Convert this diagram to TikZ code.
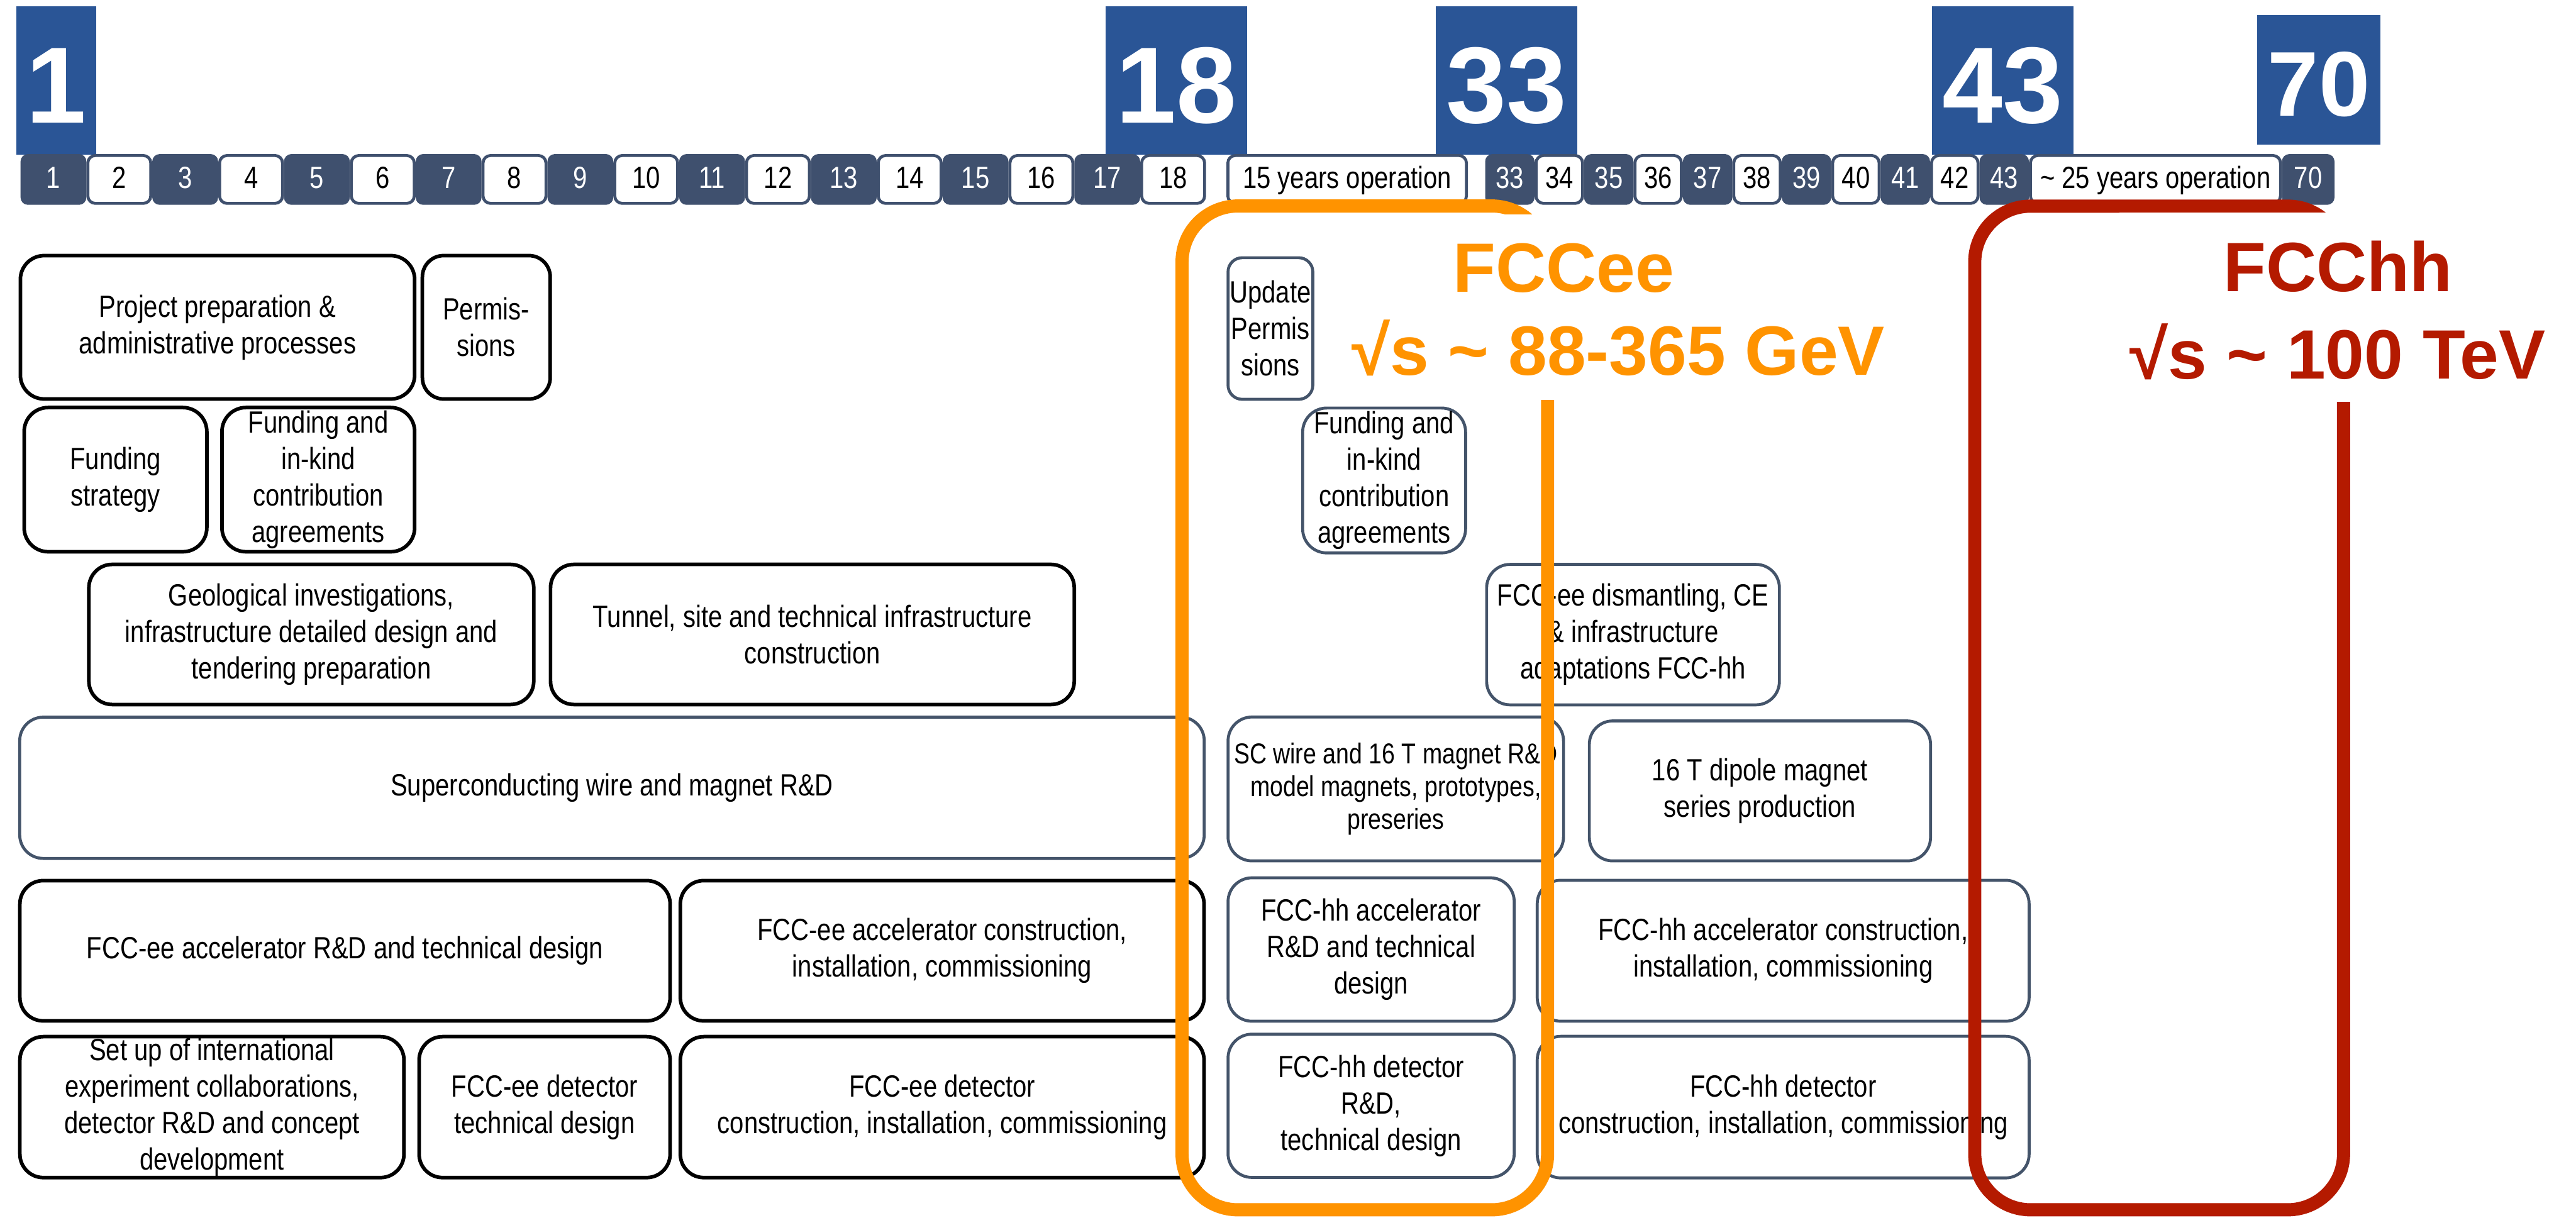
\documentclass[tikz,border=0pt]{standalone}
\usepackage{fontspec}
\setmainfont{Liberation Sans}[FakeStretch=0.82]
\newfontfamily\widefont{Liberation Sans}
\definecolor{slate}{HTML}{3F506E}
\definecolor{slateline}{HTML}{44546A}
\definecolor{bluebox}{HTML}{2A5596}
\definecolor{fccorange}{HTML}{FF9300}
\definecolor{fccred}{HTML}{B41A00}
\newcommand\taskbox[7]{%
  \pgfmathsetmacro\tbw{#5-#3}%
  \pgfmathsetmacro\tbh{#6-#4}%
  \pgfmathsetmacro\tbr{0.1667*min(\tbw,\tbh)}%
  \pgfmathsetmacro\tbx{(#3+#5)/2}%
  \pgfmathsetmacro\tby{(#4+#6)/2}%
  \node[#2, minimum width=\tbw pt, minimum height=\tbh pt, rounded corners=\tbr pt] (#1) at (\tbx,\tby) {#7};}
\begin{document}
\begin{tikzpicture}[x=1pt,y=-1pt,
  kbox/.style={draw=black, line width=2.2pt, align=center, inner sep=0pt, font=\fontsize{18.7}{22.2}\selectfont},
  gbox/.style={draw=slateline, line width=1.8pt, align=center, inner sep=0pt, font=\fontsize{18.7}{22.2}\selectfont},
  daydark/.style={fill=slate, text=white, rounded corners=4.5pt, inner sep=0pt, font=\fontsize{18.7}{22}\selectfont, text height=13.7pt, text depth=2.8pt},
  daywhite/.style={fill=white, draw=slate, line width=1.8pt, text=black, rounded corners=4.5pt, inner sep=0pt, font=\fontsize{18.7}{22}\selectfont, text height=13.7pt, text depth=2.8pt},
  bignum/.style={fill=bluebox, text=white, inner sep=0pt, text depth=0pt, font=\widefont\bfseries\fontsize{66}{66}\selectfont},
  frameline/.style={line width=8pt, rounded corners=34pt},
  bigtitle/.style={anchor=base, inner sep=0pt, font=\widefont\bfseries\fontsize{42.5}{42.5}\selectfont}
]
\fill[white] (0,0) rectangle (1568,741.2);
\useasboundingbox (0,0) rectangle (1568,741.2);

% big year boxes
\node[bignum, minimum width=48.5pt, minimum height=90pt, text height=51.6pt] (n1) at (34.25,49) {1};
\node[bignum, minimum width=86pt, minimum height=90pt, text height=51.6pt] (n18) at (716,49) {18};
\node[bignum, minimum width=86pt, minimum height=90pt, text height=51.6pt] (n33) at (917,49) {33};
\node[bignum, minimum width=86pt, minimum height=90pt, text height=51.6pt] (n43) at (1219,49) {43};
\node[bignum, minimum width=75pt, minimum height=79pt, text height=44.2pt, font=\widefont\bfseries\fontsize{56}{56}\selectfont] (n70) at (1411.5,48.5) {70};

% timeline
\foreach \i in {1,...,18}{
  \pgfmathsetmacro\cx{12.5+(\i-0.5)*40.09}
  \pgfmathtruncatemacro\odd{mod(\i,2)}
  \ifnum\odd=1
    \node[daydark, minimum width=40.09pt, minimum height=30.9pt] (t\i) at (\cx,109.25) {\i};
  \else
    \node[daywhite, minimum width=38.3pt, minimum height=29.1pt] (t\i) at (\cx,109.25) {\i};
  \fi
}
\node[daywhite, minimum width=145.2pt, minimum height=29.1pt] (op15) at (820,109.25) {15 years operation};
\foreach \i in {33,...,43}{
  \pgfmathsetmacro\cx{904+(\i-32.5)*30.09}
  \pgfmathtruncatemacro\odd{mod(\i,2)}
  \ifnum\odd=1
    \node[daydark, minimum width=30.09pt, minimum height=30.9pt] (t\i) at (\cx,109.25) {\i};
  \else
    \node[daywhite, minimum width=28.3pt, minimum height=29.1pt] (t\i) at (\cx,109.25) {\i};
  \fi
}
\node[daywhite, minimum width=152.2pt, minimum height=29.1pt] (op25) at (1312,109.25) {\textasciitilde{} 25 years operation};
\node[daydark, minimum width=32pt, minimum height=30.9pt] (t70) at (1405,109.25) {70};

% FCC-ee phase boxes (black)
\taskbox{prep}{kbox}{12.4}{155.6}{252.4}{242.9}{Project preparation \&\\administrative processes}
\taskbox{perm}{kbox}{257.1}{155.6}{334.9}{242.9}{Permis-\\sions}
\taskbox{fstrat}{kbox}{14.7}{248.1}{125.9}{335.9}{Funding\\strategy}
\taskbox{fund}{kbox}{135.1}{248.1}{252.4}{335.9}{Funding and\\in-kind\\contribution\\agreements}
\taskbox{geo}{kbox}{54.1}{343.6}{324.9}{428.9}{Geological investigations,\\infrastructure detailed design and\\tendering preparation}
\taskbox{tunnel}{kbox}{335.1}{343.6}{653.9}{428.9}{Tunnel, site and technical infrastructure\\construction}
\taskbox{sc}{gbox}{12}{436.6}{733}{522.6}{Superconducting wire and magnet R\&D}
\taskbox{eeacc}{kbox}{12.1}{536.1}{407.9}{621.5}{FCC-ee accelerator R\&D and technical design}
\taskbox{eeaccc}{kbox}{414.1}{536.1}{732.9}{621.5}{FCC-ee accelerator construction,\\installation, commissioning}
\taskbox{setup}{kbox}{12.1}{631.1}{245.9}{716.9}{Set up of international\\experiment collaborations,\\detector R\&D and concept\\development}
\taskbox{eedet}{kbox}{255.1}{631.1}{407.9}{716.9}{FCC-ee detector\\technical design}
\taskbox{eedetc}{kbox}{414.1}{631.1}{732.9}{716.9}{FCC-ee detector\\construction, installation, commissioning}

% FCC-hh phase boxes (slate)
\taskbox{upd}{gbox}{747.5}{156.9}{799.1}{243.1}{Update\\Permis\\sions}
\taskbox{fund2}{gbox}{792.9}{248.4}{892.1}{336.6}{Funding and\\in-kind\\contribution\\agreements}
\taskbox{dism}{gbox}{904.9}{343.6}{1083.1}{429.1}{FCC-ee dismantling, CE\\\& infrastructure\\adaptations FCC-hh}
\taskbox{scw}{gbox, font=\fontsize{17.5}{20}\selectfont}{747.5}{436.5}{951.7}{524.1}{SC wire and 16 T magnet R\&D\\model magnets, prototypes,\\preseries}
\taskbox{dip}{gbox}{967.4}{438.9}{1175.1}{524.1}{16 T dipole magnet\\series production}
\taskbox{hhacc}{gbox}{747.5}{534.4}{921.7}{621.7}{FCC-hh accelerator\\R\&D and technical\\design}
\taskbox{hhaccc}{gbox}{935.7}{535.9}{1235.1}{621.7}{FCC-hh accelerator construction,\\installation, commissioning}
\taskbox{hhdet}{gbox}{747.5}{629.6}{921.7}{716.8}{FCC-hh detector\\R\&D,\\technical design}
\taskbox{hhdetc}{gbox}{935.7}{630.9}{1235.1}{717.1}{FCC-hh detector\\construction, installation, commissioning}

% phase frames
\draw[fccorange, frameline] (719.5,125.4) rectangle (942,736.5);
\draw[fccred, frameline] (1202,125.5) rectangle (1426.5,736.5);
\fill[white] (812,130.7) rectangle (1160,243.5);
\fill[white] (1290,129.5) rectangle (1560,244.5);

% phase titles
\node[bigtitle, text=fccorange] (eeT) at (951.8,178) {FCCee};
\node[bigtitle, text=fccorange] (eeE) at (985,228.5) {√s \textasciitilde{} 88-365 GeV};
\node[bigtitle, text=fccred] (hhT) at (1423,177.4) {FCChh};
\node[bigtitle, text=fccred] (hhE) at (1423,230.6) {√s \textasciitilde{} 100 TeV};
\end{tikzpicture}
\end{document}
